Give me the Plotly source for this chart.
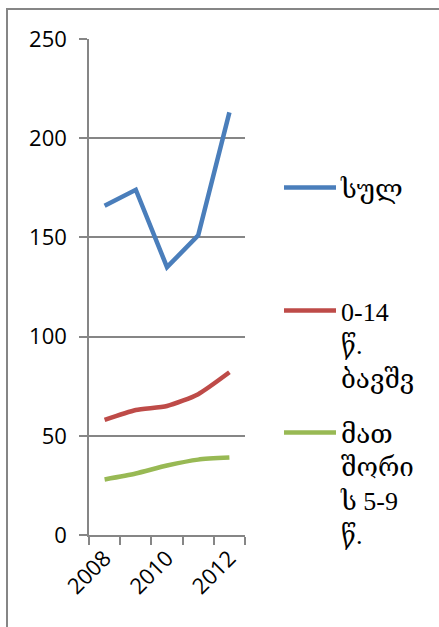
import plotly.graph_objects as go

years = ["2008", "2009", "2010", "2011", "2012"]
tick_text = ["2008", "", "2010", "", "2012"]
total = [166, 174, 135, 151, 213]
children_0_14 = [58, 63, 65, 71, 82]
children_5_9 = [28, 31, 35, 38, 39]

names = ["სულ", "0-14<br>წ.<br>ბავშვ", "მათ<br>შორი<br>ს 5-9<br>წ."]
colors = ["#4A7EBB", "#BE4B48", "#98B954"]
series = [total, children_0_14, children_5_9]
shapes_line = ["linear", "spline", "spline"]

W, H = 439, 627
L, R, T, B = 89, 245, 39, 535  # plot area in pixels


def px(x):
    return (x - L) / (R - L)


def py(y):
    return (B - y) / (B - T)


fig = go.Figure()
legend_ids = ["legend", "legend2", "legend3"]
legend_tops = [164, 287, 409]
for i in range(3):
    fig.add_trace(go.Scatter(
        x=years, y=series[i], name=names[i], mode="lines",
        line=dict(color=colors[i], width=4.5, shape=shapes_line[i], smoothing=0.6),
        legend=legend_ids[i],
    ))

gray = "#868686"
legend_font = dict(family="Liberation Serif, DejaVu Serif, serif", size=26, color="black")
layout_legends = {}
for i, lid in enumerate(legend_ids):
    layout_legends[lid] = dict(
        x=px(279), xanchor="left", y=py(legend_tops[i]), yanchor="top",
        font=legend_font, valign="top", itemwidth=52,
        bgcolor="rgba(0,0,0,0)", borderwidth=0,
    )

fig.update_layout(
    width=W, height=H,
    margin=dict(l=L, r=W - R, t=T, b=H - B, pad=0),
    paper_bgcolor="white", plot_bgcolor="white",
    showlegend=True,
    font=dict(family="Open Sans", size=22, color="black"),
    xaxis=dict(
        type="category", tickmode="array", tickvals=years, ticktext=tick_text,
        tickson="boundaries", ticks="outside", ticklen=8, tickwidth=1.5, tickcolor=gray,
        tickangle=-45, showline=True, linecolor=gray, linewidth=1.5,
        showgrid=False, range=[-0.5, 4.5],
    ),
    yaxis=dict(
        range=[0, 250], tickvals=[0, 50, 100, 150, 200, 250],
        ticks="outside", ticklen=8, tickwidth=1.5, tickcolor=gray,
        showline=True, linecolor=gray, linewidth=1.5,
        showgrid=True, gridcolor=gray, gridwidth=1.5, zeroline=False,
        ticklabelstandoff=8,
    ),
    shapes=[dict(
        type="path", xref="paper", yref="paper",
        path=f"M {px(7)} {py(640)} L {px(7)} {py(9)} L {px(460)} {py(9)}",
        line=dict(color=gray, width=2),
    )],
    **layout_legends,
)

fig.write_html("out.html")
